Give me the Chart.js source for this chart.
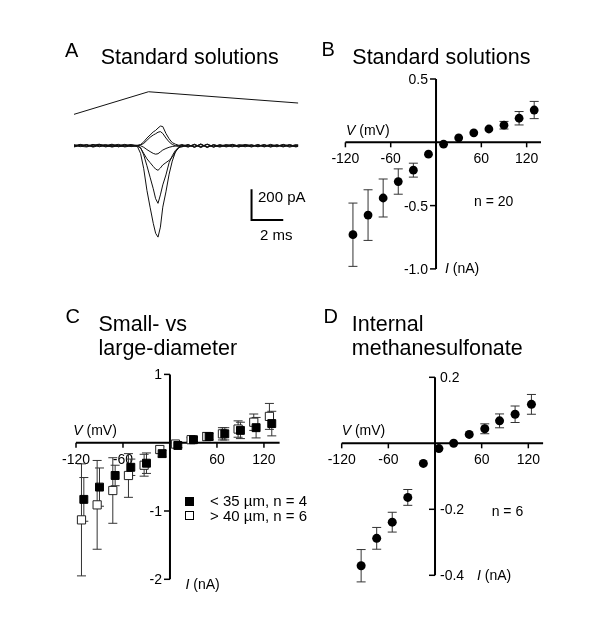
<!DOCTYPE html>
<html>
<head>
<meta charset="utf-8">
<script src="https://cdn.jsdelivr.net/npm/chart.js@4.4.0/dist/chart.umd.min.js"></script>
<style>
  body { margin: 0; background: #fff; }
  #wrap { position: relative; width: 600px; height: 619px; font-family: "Liberation Sans", Arial, sans-serif; color: #000; }
  #wrap canvas { position: absolute; left: 0; top: 0; }
  .t { position: absolute; white-space: nowrap; line-height: 1; }
  .letter { font-size: 20px; }
  .title { font-size: 21.5px; line-height: 24px; }
  .ax { font-size: 14px; }
  .sb { font-size: 15px; }
  .lg { font-size: 15px; }
  .sq { position: absolute; width: 9px; height: 9px; box-sizing: border-box; }
</style>
</head>
<body>
<div id="wrap">
  <canvas id="chartA" width="600" height="619"></canvas>
  <canvas id="chartB" width="600" height="619"></canvas>
  <canvas id="chartC" width="600" height="619"></canvas>
  <canvas id="chartD" width="600" height="619"></canvas>

  <div class="t letter" style="left:65px;top:40px">A</div>
  <div class="t title" style="left:100.7px;top:44.5px">Standard solutions</div>
  <div class="t sb" style="left:258px;top:189px">200 pA</div>
  <div class="t sb" style="left:260px;top:226.6px">2 ms</div>

  <div class="t letter" style="left:321.5px;top:39px">B</div>
  <div class="t title" style="left:352.3px;top:44.5px">Standard solutions</div>
  <div class="t ax" style="left:346px;top:123.2px"><i>V</i> (mV)</div>
  <div class="t ax" style="left:445px;top:261.2px"><i>I</i> (nA)</div>
  <div class="t ax" style="left:474px;top:194.2px">n = 20</div>

  <div class="t letter" style="left:65.5px;top:306.4px">C</div>
  <div class="t title" style="left:98.5px;top:312px">Small- vs<br>large-diameter</div>
  <div class="t ax" style="left:73.3px;top:423.2px"><i>V</i> (mV)</div>
  <div class="t ax" style="left:185.5px;top:577.2px"><i>I</i> (nA)</div>
  <div class="sq" style="left:184.5px;top:496.7px;background:#000"></div>
  <div class="sq" style="left:184.5px;top:511.3px;border:1px solid #000;background:#fff"></div>
  <div class="t lg" style="left:210px;top:493.3px">&lt; 35 µm, n = 4</div>
  <div class="t lg" style="left:210px;top:508px">&gt; 40 µm, n = 6</div>

  <div class="t letter" style="left:323.5px;top:306.4px">D</div>
  <div class="t title" style="left:351.8px;top:312px">Internal<br>methanesulfonate</div>
  <div class="t ax" style="left:341.7px;top:422.7px"><i>V</i> (mV)</div>
  <div class="t ax" style="left:477px;top:567.7px"><i>I</i> (nA)</div>
  <div class="t ax" style="left:491.7px;top:504px">n = 6</div>
</div>
<script>
// ---- Panel A: current traces (pA) vs time (ms), plus the voltage command (mV)
const tA = [0, 0.4, 0.8, 1.2, 1.6, 2.0, 2.4, 2.8, 3.2, 3.6,
  4.0, 4.2, 4.4, 4.6, 4.8, 5.0, 5.15, 5.3, 5.45, 5.6, 5.8, 6.0, 6.2, 6.4, 6.6,
  6.8, 7.2, 7.6, 8.0, 8.4, 8.8, 9.2, 9.6, 10.0, 10.4, 10.8, 11.2, 11.6, 12.0, 12.4, 12.8, 13.2, 13.6, 14.0, 14.15];
const trace1 = [4, -6, 8, -3, 6, -8, 3, 9, -4, 2,
  -5, -50, -150, -290, -400, -505, -570, -595, -530, -400, -300, -185, -100, -40, -12,
  -6, 4, -9, 12, -10, 6, -3, 8, -5, 3, -7, 5, -2, 8, -6, 4, -8, 6, -3, 2];
const trace2 = [-5, 7, -2, 9, -7, 4, -9, 2, 6, -3,
  0, -12, -60, -130, -205, -280, -345, -375, -320, -255, -190, -110, -65, -30, -10,
  5, -7, 10, -12, 9, -4, 6, -8, 3, -6, 8, -2, 6, -5, 3, -7, 5, -4, 7, -2];
const trace3 = [7, -3, -8, 4, 10, -2, 6, -7, 3, 8,
  -3, -15, -50, -85, -110, -135, -152, -160, -145, -125, -110, -95, -75, -40, -15,
  -2, 8, -11, 8, -7, 3, -9, 4, 7, -3, 2, -8, 4, -3, 9, -2, 6, -9, 2, 5];
const trace4 = [-2, 3, 6, -9, 2, 8, -5, -2, 9, -6,
  2, 0, -10, -25, -38, -50, -55, -52, -40, -28, -18, -10, -5, -2, 2,
  8, -3, 6, -9, 11, -8, 2, -5, 9, -2, -4, 6, -7, 3, -2, 7, -5, 3, -8, -4];
const trace5 = [1, 9, -5, 6, -4, 1, 10, -6, -2, 5,
  3, 8, 25, 50, 70, 90, 100, 115, 128, 125, 80, 45, 20, 10, 3,
  -8, 6, -6, 10, -12, 8, -5, 2, -8, 7, 4, -6, 8, -8, 5, -4, 9, -2, 4, 6];
const trace6 = [-8, 2, 4, -6, 8, -4, -3, 5, -8, -1,
  0, 5, 15, 35, 55, 70, 78, 88, 92, 80, 50, 25, 8, 0, -5,
  3, -9, 8, -6, 9, -10, 7, -2, 4, -9, 6, 3, -5, 6, -9, 3, -2, 8, -6, -1];
const cmdT = [0, 4.7, 14.15];
const cmdV = [-120, 120, 0];

// ---- Panel B: standard solutions, n = 20
const vB = [-110, -90, -70, -50, -30, -10, 10, 30, 50, 70, 90, 110, 130];
const iB = [-0.73, -0.575, -0.44, -0.31, -0.22, -0.094, -0.015, 0.035, 0.075, 0.105, 0.135, 0.19, 0.255];
const errB = [0.25, 0.20, 0.15, 0.10, 0.055, 0, 0, 0, 0, 0, 0.03, 0.053, 0.068];

// ---- Panel C: small (< 35 um) vs large (> 40 um) cells
const vCsmall = [-110, -90, -70, -50, -30, -10, 10, 30, 50, 70, 90, 110, 130];
const iCsmall = [-0.83, -0.65, -0.48, -0.36, -0.30, -0.16, -0.04, 0.044, 0.09, 0.13, 0.18, 0.22, 0.28];
const errCsmall = [0.32, 0.28, 0.15, 0.12, 0.15, 0.05, 0.03, 0.03, 0.05, 0.09, 0.12, 0.15, 0.18];
const vClarge = [-113, -93, -73, -53, -33, -13, 7, 27, 47, 67, 87, 107, 127];
const iClarge = [-1.13, -0.91, -0.70, -0.48, -0.33, -0.10, -0.02, 0.044, 0.09, 0.13, 0.20, 0.30, 0.385];
const errClarge = [0.82, 0.65, 0.48, 0.32, 0.16, 0.05, 0.03, 0.03, 0.06, 0.09, 0.12, 0.12, 0.19];

// ---- Panel D: internal methanesulfonate, n = 6
const vD = [-95, -75, -55, -35, -15, 5, 24, 44, 64, 83, 103, 124];
const iD = [-0.371, -0.288, -0.239, -0.164, -0.061, -0.016, 0.0, 0.027, 0.044, 0.068, 0.088, 0.118];
const errD = [0.049, 0.033, 0.030, 0.024, 0, 0, 0, 0, 0.015, 0.021, 0.025, 0.030];

// tick labels
const xTicksIV = [-120, -60, 60, 120];
const yTicksB = [0.5, -0.5, -1.0], yLabelsB = ['0.5', '-0.5', '-1.0'];
const yTicksC = [1, -1, -2], yLabelsC = ['1', '-1', '-2'];
const yTicksD = [0.2, -0.2, -0.4], yLabelsD = ['0.2', '-0.2', '-0.4'];

const FONT = '"Liberation Sans", Arial, sans-serif';
const pts = (xs, ys) => xs.map((x, i) => ({x: x, y: ys[i]}));

// axes crossing at the origin, drawn from the chart's own scales
const crossAxes = {
	id: 'crossAxes',
	beforeDatasetsDraw(chart, args, opts) {
		if (!opts.xTicks) return;
		const {ctx, chartArea: a, scales: {x, y}} = chart;
		const x0 = x.getPixelForValue(0), y0 = y.getPixelForValue(0);
		ctx.save();
		ctx.strokeStyle = '#000';
		ctx.fillStyle = '#000';
		ctx.lineWidth = 2;
		ctx.beginPath();
		ctx.moveTo(a.left, y0); ctx.lineTo(a.right, y0);
		ctx.moveTo(x0, a.top); ctx.lineTo(x0, a.bottom);
		ctx.stroke();
		ctx.lineWidth = 1.5;
		ctx.font = '14px ' + FONT;
		ctx.textBaseline = 'alphabetic';
		opts.xTicks.forEach(v => {
			const px = x.getPixelForValue(v);
			ctx.beginPath(); ctx.moveTo(px, y0); ctx.lineTo(px, y0 + 5); ctx.stroke();
			ctx.textAlign = 'center';
			ctx.fillText(String(v), px, y0 + 21);
		});
		opts.yTicks.forEach((v, i) => {
			const py = y.getPixelForValue(v);
			ctx.beginPath(); ctx.moveTo(x0, py); ctx.lineTo(x0 - 6, py); ctx.stroke();
			if (opts.labelsRight) {
				ctx.textAlign = 'left';
				ctx.fillText(opts.yLabels[i], x0 + 5, py + 5);
			} else {
				ctx.textAlign = 'right';
				ctx.fillText(opts.yLabels[i], x0 - 8, py + 5);
			}
		});
		ctx.restore();
	}
};

// SEM error bars from a dataset's "errors" array
const errorBars = {
	id: 'errorBars',
	beforeDatasetsDraw(chart) {
		const {ctx, scales: {y}} = chart;
		ctx.save();
		ctx.strokeStyle = '#333';
		ctx.lineWidth = 1;
		chart.data.datasets.forEach((ds, i) => {
			if (!ds.errors) return;
			chart.getDatasetMeta(i).data.forEach((pt, j) => {
				const e = ds.errors[j];
				if (!e) return;
				const v = ds.data[j].y;
				const top = y.getPixelForValue(v + e), bot = y.getPixelForValue(v - e);
				ctx.beginPath();
				ctx.moveTo(pt.x, top); ctx.lineTo(pt.x, bot);
				ctx.moveTo(pt.x - 4.5, top); ctx.lineTo(pt.x + 4.5, top);
				ctx.moveTo(pt.x - 4.5, bot); ctx.lineTo(pt.x + 4.5, bot);
				ctx.stroke();
			});
		});
		ctx.restore();
	}
};

// L-shaped calibration bar for panel A
const scaleBar = {
	id: 'scaleBar',
	afterDatasetsDraw(chart, args, opts) {
		if (opts.t === undefined) return;
		const {ctx, scales: {x, y}} = chart;
		const px = x.getPixelForValue(opts.t), py = y.getPixelForValue(opts.i);
		ctx.save();
		ctx.strokeStyle = '#000';
		ctx.lineWidth = 2;
		ctx.beginPath();
		ctx.moveTo(px, y.getPixelForValue(opts.i + opts.di));
		ctx.lineTo(px, py);
		ctx.lineTo(x.getPixelForValue(opts.t + opts.dt), py);
		ctx.stroke();
		ctx.restore();
	}
};

Chart.register(crossAxes, errorBars, scaleBar);
Chart.defaults.font.family = FONT;

const baseOptions = (pad, xr, yr) => ({
	responsive: false,
	animation: false,
	events: [],
	layout: {padding: pad},
	plugins: {legend: {display: false}, tooltip: {enabled: false}},
	scales: {
		x: {type: 'linear', display: false, min: xr[0], max: xr[1]},
		y: {type: 'linear', display: false, min: yr[0], max: yr[1]}
	}
});

// Panel A
(function () {
	const opts = baseOptions({left: 74, right: 301.7, top: 84.3, bottom: 376.5}, [0, 14.15], [-630, 400]);
	opts.scales.y2 = {type: 'linear', display: false, min: -1481, max: 199};
	opts.plugins.scaleBar = {t: 11.2, i: -484, dt: 2, di: 200};
	const line = (data, axis) => ({
		data: data, yAxisID: axis || 'y', showLine: true, pointRadius: 0,
		borderColor: '#111', borderWidth: 1, tension: 0, fill: false
	});
	new Chart(document.getElementById('chartA'), {
		type: 'scatter',
		data: {
			datasets: [
				line(pts(tA, trace1)), line(pts(tA, trace2)), line(pts(tA, trace3)),
				line(pts(tA, trace4)), line(pts(tA, trace5)), line(pts(tA, trace6)),
				line(pts(cmdT, cmdV), 'y2')
			]
		},
		options: opts
	});
})();

// Panel B
(function () {
	const opts = baseOptions({left: 345.4, right: 59, top: 79, bottom: 350.1}, [-120, 139], [-1.0, 0.5]);
	opts.plugins.crossAxes = {xTicks: xTicksIV, yTicks: yTicksB, yLabels: yLabelsB};
	new Chart(document.getElementById('chartB'), {
		type: 'scatter',
		data: {
			datasets: [{
				data: pts(vB, iB), errors: errB,
				pointRadius: 4.4, pointBackgroundColor: '#000', pointBorderWidth: 0
			}]
		},
		options: opts
	});
})();

// Panel C
(function () {
	const opts = baseOptions({left: 76, right: 320.4, top: 374.4, bottom: 39.7}, [-120, 140], [-2, 1]);
	opts.plugins.crossAxes = {xTicks: xTicksIV, yTicks: yTicksC, yLabels: yLabelsC};
	new Chart(document.getElementById('chartC'), {
		type: 'scatter',
		data: {
			datasets: [{
				data: pts(vCsmall, iCsmall), errors: errCsmall,
				pointStyle: 'rect', pointRadius: 5.6,
				pointBackgroundColor: '#000', pointBorderColor: '#000', pointBorderWidth: 1
			}, {
				data: pts(vClarge, iClarge), errors: errClarge,
				pointStyle: 'rect', pointRadius: 5.8,
				pointBackgroundColor: '#fff', pointBorderColor: '#222', pointBorderWidth: 1
			}]
		},
		options: opts
	});
})();

// Panel D
(function () {
	const opts = baseOptions({left: 341.7, right: 56.9, top: 377.3, bottom: 43.7}, [-120, 139], [-0.4, 0.2]);
	opts.plugins.crossAxes = {xTicks: xTicksIV, yTicks: yTicksD, yLabels: yLabelsD, labelsRight: true};
	new Chart(document.getElementById('chartD'), {
		type: 'scatter',
		data: {
			datasets: [{
				data: pts(vD, iD), errors: errD,
				pointRadius: 4.5, pointBackgroundColor: '#000', pointBorderWidth: 0
			}]
		},
		options: opts
	});
})();
</script>
</body>
</html>
